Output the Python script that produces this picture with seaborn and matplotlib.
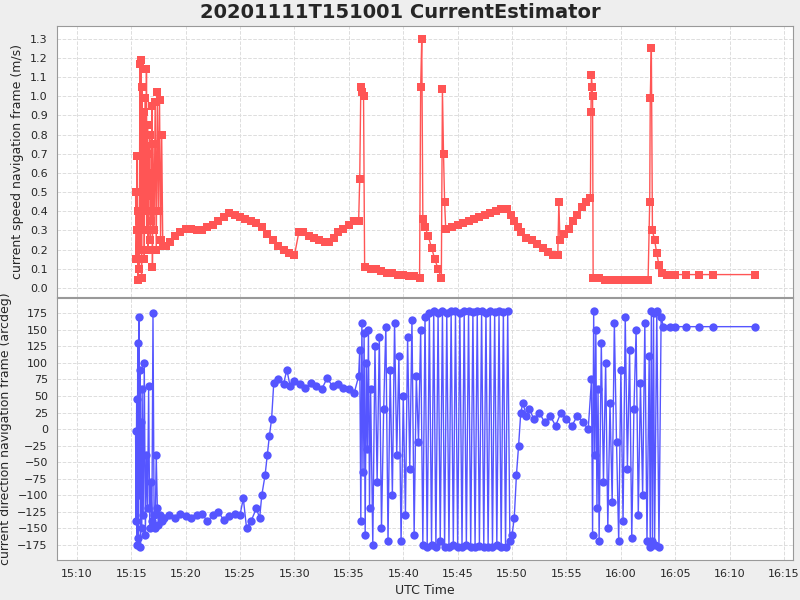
import matplotlib
matplotlib.use("Agg")
import matplotlib.pyplot as plt
import seaborn as sns
import numpy as np

# minutes after 15:00
spd_t = [15.40,15.45,15.5,15.55,15.6,15.65,15.7,15.75,15.8,15.85,15.9,15.95,16.0,16.05,16.1,16.15,16.2,16.25,16.3,16.35,16.4,16.45,16.5,16.55,16.6,16.65,16.7,16.75,16.8,16.85,16.9,16.95,17.0,17.1,17.2,17.3,17.4,17.5,17.6,17.7,17.8,17.9,
 18.2,18.6,19.0,19.5,20.0,20.5,21.0,21.5,22.0,22.5,23.0,23.5,24.0,24.5,25.0,25.5,26.0,26.5,27.0,27.5,28.0,28.5,29.0,29.5,30.0,30.4,30.8,31.3,31.8,32.3,32.8,33.2,33.6,34.0,34.5,35.0,35.5,35.9,36.0,36.1,36.2,36.35,36.45,37.0,37.5,38.0,38.5,39.0,39.5,40.0,40.5,41.0,41.5,41.6,41.7,41.8,42.0,42.3,42.6,42.9,43.2,43.5,43.6,43.7,43.8,43.9,44.5,45.0,45.5,46.0,46.5,47.0,47.5,48.0,48.5,49.0,49.5,49.9,50.2,50.5,50.8,51.3,51.8,52.3,52.8,53.3,53.8,54.2,54.3,54.4,54.8,55.2,55.6,56.0,56.4,56.8,57.2,57.25,57.3,57.35,57.4,57.45,58.0,58.5,59.0,59.5,60.0,60.5,61.0,61.5,62.0,62.5,62.65,62.7,62.8,62.9,63.1,63.3,63.5,63.8,64.2,65.0,66.0,67.2,68.5,72.3]
spd_v = [0.5,0.15,0.3,0.69,0.04,0.4,0.1,0.35,1.17,0.2,1.19,0.05,1.05,0.6,0.3,0.92,0.15,0.74,0.99,0.4,1.14,0.3,0.85,0.2,0.7,0.48,0.8,0.25,0.6,0.35,0.95,0.11,0.75,0.3,0.97,0.2,1.02,0.4,0.98,0.25,0.8,0.22,
 0.22,0.24,0.27,0.29,0.31,0.31,0.30,0.30,0.32,0.33,0.35,0.37,0.39,0.38,0.37,0.36,0.35,0.34,0.32,0.28,0.25,0.22,0.2,0.18,0.17,0.29,0.29,0.27,0.26,0.25,0.24,0.24,0.26,0.29,0.31,0.33,0.35,0.35,0.57,1.05,1.02,1.0,0.11,0.10,0.1,0.09,0.08,0.08,0.07,0.07,0.06,0.06,0.05,1.05,1.3,0.36,0.32,0.27,0.21,0.15,0.1,0.05,1.04,0.7,0.45,0.31,0.32,0.33,0.34,0.35,0.36,0.37,0.38,0.39,0.4,0.41,0.41,0.38,0.35,0.32,0.29,0.26,0.25,0.23,0.21,0.19,0.17,0.17,0.45,0.25,0.28,0.31,0.35,0.38,0.42,0.45,0.47,0.92,1.11,1.05,1.0,0.05,0.05,0.04,0.04,0.04,0.04,0.04,0.04,0.04,0.04,0.04,0.45,0.99,1.25,0.3,0.25,0.18,0.12,0.08,0.07,0.07,0.07,0.07,0.07,0.07]

dir_t = [15.4,15.45,15.5,15.55,15.6,15.65,15.7,15.75,15.8,15.85,15.9,15.95,16.0,16.1,16.2,16.3,16.4,16.5,16.6,16.7,16.8,16.9,17.0,17.1,17.2,17.3,17.4,17.5,17.6,17.8,18.0,
 18.5,19,19.5,20,20.5,21,21.5,22,22.5,23,23.5,24,24.5,25,25.3,25.6,26,26.5,26.8,27.0,27.3,27.5,27.7,27.9,28.1,28.5,29,29.3,29.6,30,30.5,31,31.5,32,32.5,33,33.5,34,34.5,35,35.5,35.9,
 36.0,36.1,36.2,36.3,36.4,36.5,36.6,36.7,36.8,36.9,37.0,37.2,37.4,37.6,37.8,38.0,38.2,38.4,38.6,38.8,39.0,39.2,39.4,39.6,39.8,40.0,40.2,40.4,40.6,40.8,41.0,41.2,41.4,41.6,41.8,42.0,42.2,42.4,42.6,42.8,43.0,43.2,43.4,43.6,43.8,
 44.0,44.2,44.4,44.6,44.8,45.0,45.2,45.4,45.6,45.8,46.0,46.2,46.4,46.6,46.8,47.0,47.2,47.4,47.6,47.8,48.0,48.2,48.4,48.6,48.8,49.0,49.2,49.4,49.6,49.8,50.0,50.2,50.4,50.6,50.8,51.0,51.3,51.6,52,52.5,53,53.5,54,54.5,55,55.5,56,56.5,57,
 57.3,57.4,57.5,57.6,57.7,57.8,57.9,58.0,58.2,58.4,58.6,58.8,59.0,59.2,59.4,59.6,59.8,60.0,60.2,60.4,60.6,60.8,61.0,61.2,61.4,61.6,61.8,62.0,62.2,62.4,62.6,62.7,62.8,62.9,63.0,63.1,63.3,63.5,63.7,63.9,64.5,65.0,66.0,67.2,68.5,72.3]
dir_v = [-3,-140,45,-175,130,-165,170,-100,90,-178,10,-150,60,-130,100,-160,-40,-120,65,-150,-80,-140,175,-130,-150,-40,-120,-145,-130,-140,-135,
 -130,-135,-128,-132,-135,-130,-128,-140,-130,-125,-138,-132,-128,-130,-105,-150,-140,-120,-135,-100,-70,-40,-10,15,70,75,68,90,65,72,68,62,70,65,60,77,65,68,62,60,55,80,
 120,-140,160,-65,145,-160,100,-30,150,-120,60,-175,125,-80,140,-150,30,155,-170,90,-100,160,-40,110,-170,50,-130,140,-60,165,-160,80,-20,150,-175,170,-178,175,-175,178,-178,175,-170,178,-178,
 175,-178,178,-175,178,-178,176,-178,178,-176,178,-178,177,-178,178,-177,178,-178,176,-178,178,-178,177,-176,178,-178,177,-178,178,-170,-160,-135,-70,-25,25,40,20,30,15,25,10,20,5,25,15,5,20,10,0,
 75,-160,178,-40,150,-120,60,-170,130,-80,100,-150,40,-110,160,-20,-170,90,-140,170,-60,120,-165,30,150,-130,70,-100,160,-170,110,-178,178,-170,175,-175,178,-178,170,155,155,155,155,155,155,155]

sns.set_style("whitegrid")
fig = plt.figure(figsize=(8, 6), dpi=100, facecolor="#EEEEEE")
ax1 = fig.add_axes([0.071, 0.505, 0.92, 0.452])
ax2 = fig.add_axes([0.071, 0.067, 0.92, 0.437])
for ax in (ax1, ax2):
    ax.set_facecolor("white")
    ax.grid(True, color="#DDDDDD", linestyle="--", linewidth=0.7)
    for s in ax.spines.values():
        s.set_color("#999999"); s.set_linewidth(0.8)
    ax.set_xlim(8.16, 75.8)
    ax.tick_params(labelsize=8, length=3, color="#999999")

sns.lineplot(x=spd_t, y=spd_v, ax=ax1, sort=False, estimator=None, color="#FF5555",
             marker="s", markersize=6, markeredgewidth=0, linewidth=1)
sns.lineplot(x=dir_t, y=dir_v, ax=ax2, sort=False, estimator=None, color="#5555FF",
             marker="o", markersize=6, markeredgewidth=0, linewidth=1)

ticks = np.arange(10, 76, 5)
labels = [f"{15 + m // 60}:{m % 60:02d}" for m in ticks]
ax1.set_xticks(ticks); ax1.set_xticklabels([])
ax2.set_xticks(ticks); ax2.set_xticklabels(labels)
ax1.set_ylim(-0.047, 1.368)
ax1.set_yticks(np.round(np.arange(0, 1.31, 0.1), 1))
ax1.set_yticklabels([f"{v:.1f}" for v in np.arange(0, 1.31, 0.1)])
ax2.set_ylim(-198, 199)
ax2.set_yticks(np.arange(-175, 176, 25))
ax1.set_ylabel("current speed navigation frame (m/s)", fontsize=9)
ax2.set_ylabel("current direction navigation frame (arcdeg)", fontsize=9)
ax2.set_xlabel("UTC Time", fontsize=9)
fig.suptitle("20201111T151001 CurrentEstimator", fontsize=14, fontweight="bold", y=0.995)
fig.savefig("out.png", dpi=100, facecolor=fig.get_facecolor())
